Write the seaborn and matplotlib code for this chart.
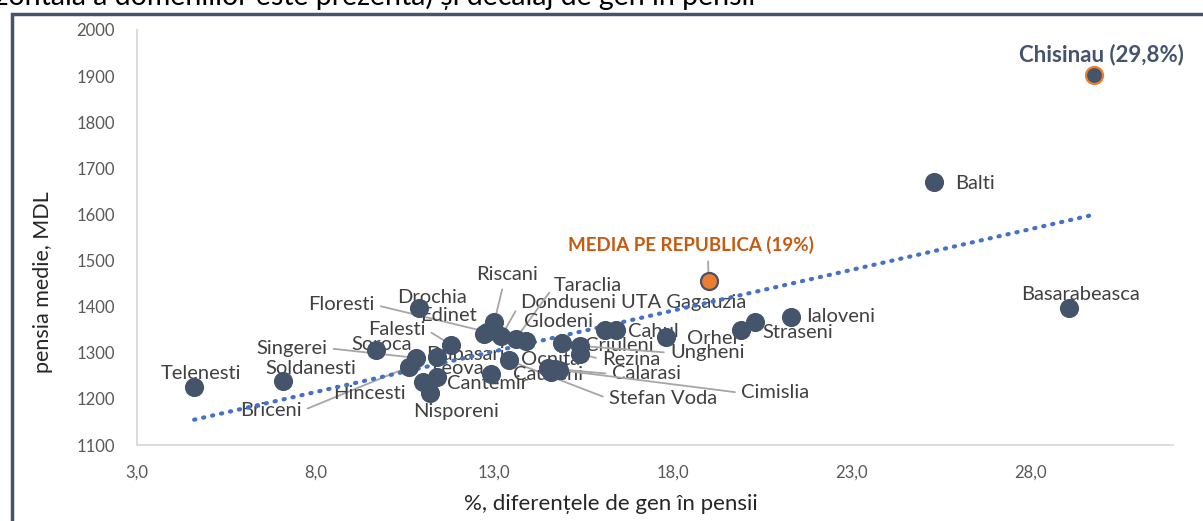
import numpy as np
import pandas as pd
import matplotlib
matplotlib.use("Agg")
import matplotlib.pyplot as plt
import seaborn as sns
from matplotlib.patches import Rectangle

# date: decalaj de gen in pensii (%) si pensia medie (MDL)
raioane = ['Telenesti', 'Soldanesti', 'Soroca', 'Singerei', 'Briceni', 'Hincesti',
           'Nisporeni', 'Leova', 'Dubasari', 'Falesti', 'Drochia', 'Cantemir',
           'Riscani', 'Floresti', 'Edinet', 'Donduseni', 'Taraclia', 'Glodeni',
           'Criuleni', 'Ungheni', 'Rezina', 'Stefan Voda', 'Ocnita', 'Causeni',
           'Calarasi', 'Cimislia', 'Anenii Noi', 'UTA Gagauzia', 'Cahul', 'Orhei',
           'Straseni', 'Ialoveni', 'Balti', 'Basarabeasca', 'Chisinau']
decalaj = [4.6, 7.1, 9.7, 10.8, 10.6, 11.0,
           11.2, 11.4, 11.4, 11.8, 10.9, 12.9,
           13.0, 12.8, 12.7, 13.2, 13.6, 13.9,
           14.9, 15.4, 15.4, 13.4, 14.5, 14.6,
           14.7, 14.8, 16.1, 16.4, 17.8, 19.9,
           20.3, 21.3, 25.3, 29.1, 29.8]
pensia = [1226, 1239, 1306, 1289, 1269, 1237,
          1213, 1247, 1290, 1317, 1397, 1254,
          1367, 1345, 1341, 1336, 1330, 1326,
          1321, 1315, 1297, 1284, 1267, 1258,
          1265, 1263, 1349, 1349, 1334, 1349,
          1367, 1378, 1670, 1397, 1902]
media_decalaj = 19.0
media_pensia = 1456

# pozitia etichetelor (x, y) si punctul de prindere al liniei de legatura
etichete = {
    'Telenesti': (4.8, 1254, None), 'Soldanesti': (7.87, 1265, None),
    'Soroca': (9.85, 1317, None), 'Singerei': (7.34, 1310, (1, 0.5)),
    'Briceni': (6.75, 1174, (1, 0.5)), 'Hincesti': (9.5, 1211, None),
    'Nisporeni': (11.93, 1172, None), 'Leova': (11.96, 1265, None),
    'Dubasari': (12.18, 1297, None), 'Falesti': (10.28, 1351, (1, 0.5)),
    'Drochia': (11.26, 1419, None), 'Cantemir': (12.8, 1234, None),
    'Riscani': (13.35, 1469, (0.45, 0)), 'Floresti': (8.73, 1404, (1, 0.5)),
    'Edinet': (11.71, 1380, None), 'Donduseni': (15.07, 1408, (0, 0.5)),
    'Taraclia': (15.63, 1445, (0, 0.5)), 'Glodeni': (14.81, 1367, None),
    'Criuleni': (16.5, 1315, None), 'Ungheni': (18.96, 1300, (0, 0.5)),
    'Rezina': (16.83, 1286, (0, 0.5)), 'Stefan Voda': (17.72, 1200, (0, 0.5)),
    'Ocnita': (14.57, 1286, None), 'Causeni': (14.5, 1252, None),
    'Calarasi': (17.25, 1254, (0, 0.5)), 'Cimislia': (20.86, 1213, (0, 0.5)),
    'UTA Gagauzia': (18.29, 1408, None), 'Cahul': (17.45, 1347, None),
    'Orhei': (19.1, 1332, None), 'Straseni': (21.5, 1345, None),
    'Ialoveni': (22.7, 1378, None), 'Balti': (26.45, 1668, None),
    'Basarabeasca': (29.4, 1427, None),
}

df = pd.DataFrame({'raion': raioane, 'decalaj': decalaj, 'pensia': pensia})

sns.set_style("white")
plt.rcParams['font.family'] = ['Lato', 'DejaVu Sans']

fig = plt.figure(figsize=(12.03, 5.21), dpi=100)
ax = fig.add_axes([137 / 1203, 1 - 445 / 521, 1036 / 1203, 415 / 521])

inchis = '#44546A'
portocaliu = '#ED7D31'

sns.scatterplot(data=df[df.raion != 'Chisinau'], x='decalaj', y='pensia', ax=ax,
                s=190, color=inchis, edgecolor=inchis, linewidth=0, zorder=3)
sns.scatterplot(data=df[df.raion == 'Chisinau'], x='decalaj', y='pensia', ax=ax,
                s=150, color=inchis, edgecolor=portocaliu, linewidth=1.6, zorder=3)
sns.scatterplot(x=[media_decalaj], y=[media_pensia], ax=ax,
                s=150, color=portocaliu, edgecolor=inchis, linewidth=1.6, zorder=3)

# linia de tendinta
k, b = np.polyfit(df.decalaj, df.pensia, 1)
xs = np.array([df.decalaj.min(), df.decalaj.max()])
ax.plot(xs, k * xs + b, color='#4472C4', lw=3, linestyle=(0, (0.3, 1.9)),
        dash_capstyle='round', zorder=2)

for _, r in df.iterrows():
    if r.raion not in etichete:
        continue
    tx, ty, rp = etichete[r.raion]
    kw = {}
    if rp is not None:
        kw['arrowprops'] = dict(arrowstyle='-', color='#A6A6A6', lw=1.3,
                                relpos=rp, shrinkA=2, shrinkB=0)
    ax.annotate(r.raion, xy=(r.decalaj, r.pensia), xytext=(tx, ty),
                ha='center', va='center', fontsize=14.5, color='#404040',
                zorder=1, **kw)

ax.annotate('Chisinau (29,8%)', xy=(29.8, 1902), xytext=(30.0, 1946),
            ha='center', va='center', fontsize=16, fontweight='bold', color=inchis)
ax.annotate('MEDIA PE REPUBLICA (19%)', xy=(media_decalaj, media_pensia),
            xytext=(18.5, 1534), ha='center', va='center', fontsize=13.5,
            fontweight='bold', color='#C55A11', zorder=1,
            arrowprops=dict(arrowstyle='-', color='#A6A6A6', lw=1.3,
                            relpos=(0.57, 0), shrinkA=3, shrinkB=0))

ax.set_xlim(3, 32)
ax.set_ylim(1100, 2000)
ax.set_xticks(np.arange(3, 29, 5))
ax.set_xticklabels([f'{v:.1f}'.replace('.', ',') for v in np.arange(3, 29, 5)])
ax.set_yticks(np.arange(1100, 2001, 100))
ax.tick_params(axis='both', length=0, labelsize=12, colors='#595959')
ax.tick_params(axis='y', pad=16)
ax.tick_params(axis='x', pad=14)
for s in ['top', 'right']:
    ax.spines[s].set_visible(False)
for s in ['left', 'bottom']:
    ax.spines[s].set_color('#D9D9D9')
    ax.spines[s].set_linewidth(1.3)
ax.set_xlabel('%, diferențele de gen în pensii', fontsize=16, color='#262626')
ax.set_ylabel('pensia medie, MDL', fontsize=15.5, color='#262626')
ax.xaxis.set_label_coords(0.457, -0.118)
ax.yaxis.set_label_coords(-0.081, 0.393)

# titlul taiat si chenarul
fig.text(755 / 1203, 1 - 5 / 521, 'orizontală a domeniilor este prezentă) și decalaj de gen în pensii',
         ha='right', va='baseline', fontsize=20.5, color='#000000')
fig.add_artist(Rectangle((12 / 1203, -0.2), 1.2, 1.2 - 14 / 521,
                         transform=fig.transFigure, fill=False,
                         edgecolor=inchis, lw=2.5))

fig.savefig('out.png', dpi=100)
